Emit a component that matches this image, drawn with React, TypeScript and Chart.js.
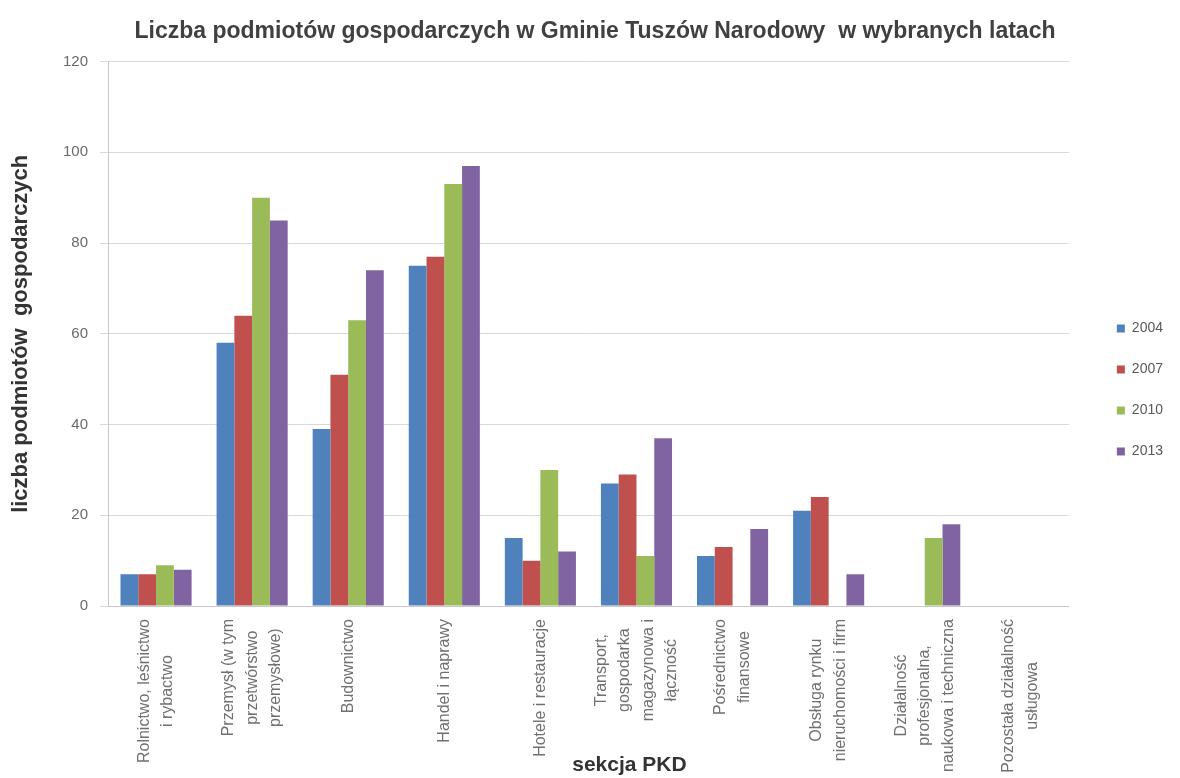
import React, { useEffect, useRef } from "react";
import { Chart, registerables } from "chart.js";

Chart.register(...registerables);

const categories: string[][] = [
  ["Rolnictwo, leśnictwo", "i rybactwo"],
  ["Przemysł (w tym", "przetwórstwo", "przemysłowe)"],
  ["Budownictwo"],
  ["Handel i naprawy"],
  ["Hotele i restauracje"],
  ["Transport,", "gospodarka", "magazynowa i", "łączność"],
  ["Pośrednictwo", "finansowe"],
  ["Obsługa rynku", "nieruchomości i firm"],
  ["Działalność", "profesjonalna,", "naukowa i techniczna"],
  ["Pozostała działalność", "usługowa"],
];

const years = ["2004", "2007", "2010", "2013"];
const values2004 = [7, 58, 39, 75, 15, 27, 11, 21, 0, 0];
const values2007 = [7, 64, 51, 77, 10, 29, 13, 24, 0, 0];
const values2010 = [9, 90, 63, 93, 30, 11, 0, 0, 15, 0];
const values2013 = [8, 85, 74, 97, 12, 37, 17, 7, 18, 0];
const yTicks = [0, 20, 40, 60, 80, 100, 120];

const xTitle = "sekcja PKD";
const colors = ["#4F81BD", "#C0504D", "#9BBB59", "#8064A2"];
const FONT = "'Liberation Sans', Arial, sans-serif";

const labelPlugin = {
  id: "vertLabels",
  afterLayout(chart: any) {
    const lg = chart.legend;
    if (lg) {
      lg.left += 21;
      lg.right += 21;
    }
    const tb = chart.titleBlock;
    if (tb) {
      tb.left += 16;
      tb.right += 16;
    }
  },
  afterDraw(chart: any) {
    const ctx = chart.ctx as CanvasRenderingContext2D;
    const xs = chart.scales.x;
    const LH = 23.5;
    ctx.save();
    ctx.font = `16px ${FONT}`;
    ctx.fillStyle = "#707070";
    categories.forEach((lines, i) => {
      const px = xs.getPixelForValue(i);
      const maxW = Math.max(...lines.map((l) => ctx.measureText(l).width));
      const cy = xs.top + 13 + maxW / 2;
      lines.forEach((l, j) => {
        const cx = px + (j - (lines.length - 1) / 2) * LH;
        ctx.save();
        ctx.translate(cx, cy);
        ctx.rotate(-Math.PI / 2);
        ctx.textAlign = "center";
        ctx.textBaseline = "middle";
        ctx.fillText(l, 0, 0);
        ctx.restore();
      });
    });
    ctx.font = `bold 21px ${FONT}`;
    ctx.fillStyle = "#333333";
    ctx.textAlign = "center";
    ctx.textBaseline = "middle";
    const area = chart.chartArea;
    ctx.fillText(xTitle, (area.left + area.right) / 2 + 41, chart.height - 13);
    ctx.restore();
  },
};

export default function App() {
  const ref = useRef<HTMLCanvasElement | null>(null);
  useEffect(() => {
    if (!ref.current) return;
    const series = [values2004, values2007, values2010, values2013];
    const chart = new Chart(ref.current, {
      type: "bar",
      data: {
        labels: categories.map((c) => c.join(" ")),
        datasets: series.map((v, i) => ({
          label: years[i],
          data: v,
          backgroundColor: colors[i],
          borderWidth: 0,
          categoryPercentage: 0.74,
          barPercentage: 1.0,
        })),
      },
      options: {
        animation: false,
        responsive: true,
        maintainAspectRatio: false,
        layout: { padding: { left: 6, right: 28, top: 2, bottom: 0 } },
        plugins: {
          title: {
            display: true,
            text: "Liczba podmiotów gospodarczych w Gminie Tuszów Narodowy  w wybranych latach",
            color: "#404040",
            font: { family: FONT, size: 23, weight: "bold" },
            padding: { top: 16, bottom: 16 },
          },
          legend: {
            position: "right",
            labels: {
              boxWidth: 8,
              boxHeight: 8,
              color: "#595959",
              font: { family: FONT, size: 14 },
              padding: 27,
            },
          },
          tooltip: { enabled: false },
        },
        scales: {
          x: {
            grid: { display: false },
            border: { color: "#c8c8c8" },
            afterFit: (axis: any) => {
              axis.height = 172;
            },
            ticks: { display: false },
            title: { display: false },
          },
          y: {
            min: 0,
            max: 120,
            afterBuildTicks: (axis: any) => {
              axis.ticks = yTicks.map((v) => ({ value: v }));
            },
            afterFit: (axis: any) => {
              axis.width = 102;
            },
            grid: { color: "#d9d9d9", tickLength: 8 },
            border: { color: "#c8c8c8" },
            ticks: {
              color: "#6a6a6a",
              padding: 12,
              font: { family: FONT, size: 15 },
            },
            title: {
              display: true,
              text: "liczba podmiotów  gospodarczych",
              color: "#333333",
              font: { family: FONT, size: 22, weight: "bold" },
              padding: { top: 2, bottom: 8 },
            },
          },
        },
      },
      plugins: [labelPlugin as any],
    });
    return () => chart.destroy();
  }, []);
  return (
    <div style={{ position: "absolute", left: 0, top: 0, width: 1180, height: 778, background: "#fff" }}>
      <canvas ref={ref} />
    </div>
  );
}
